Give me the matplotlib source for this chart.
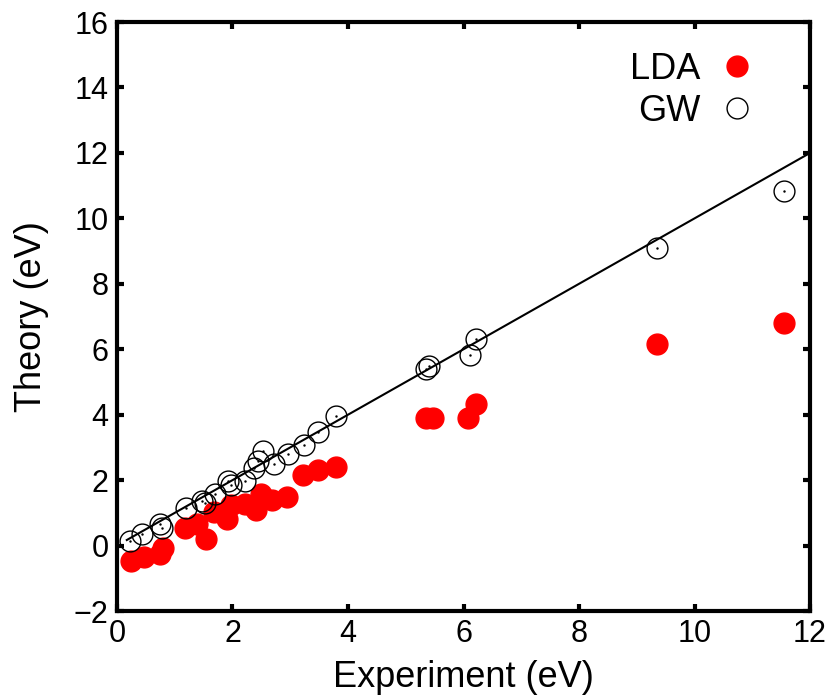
import numpy as np
import matplotlib
matplotlib.use('Agg')
import matplotlib.pyplot as plt

plt.rcParams['font.family'] = ['Liberation Sans', 'DejaVu Sans']

# experiment vs theory (eV)
exp_gw = [0.23, 0.43, 0.75, 0.78, 1.19, 1.48, 1.52, 1.70, 1.93, 1.98, 2.21, 2.38,
          2.44, 2.52, 2.72, 2.96, 3.24, 3.48, 3.79, 5.35, 5.41, 6.11, 6.21, 9.35, 11.55]
gw = [0.14, 0.35, 0.65, 0.55, 1.14, 1.35, 1.30, 1.59, 1.96, 1.85, 1.98, 2.37,
      2.59, 2.90, 2.49, 2.80, 3.08, 3.46, 3.96, 5.39, 5.49, 5.83, 6.31, 9.10, 10.85]

exp_lda = [0.25, 0.46, 0.75, 0.79, 1.18, 1.39, 1.54, 1.68, 1.90, 1.98, 2.21, 2.41,
           2.50, 2.68, 2.94, 3.22, 3.48, 3.79, 5.35, 5.47, 6.08, 6.22, 9.35, 11.55]
lda = [-0.47, -0.34, -0.26, -0.06, 0.55, 0.65, 0.20, 1.04, 0.81, 1.24, 1.28, 1.08,
       1.57, 1.39, 1.49, 2.15, 2.31, 2.41, 3.91, 3.91, 3.91, 4.34, 6.15, 6.80]

line_x = [0.17, 12]

fig = plt.figure(figsize=(8.32, 6.98), dpi=100)
ax = fig.add_axes([0.1406, 0.1246, 0.833, 0.8438])

ax.plot(line_x, line_x, color='k', lw=1.5, zorder=1)
ax.plot(exp_lda, lda, ls='', marker='o', ms=15, mfc='red', mec='red',
        label='LDA', zorder=2)
ax.plot(exp_gw, gw, ls='', marker='o', ms=15, mfc='none', mec='k', mew=1.0,
        label='GW', zorder=3)
ax.plot(exp_gw, gw, ls='', marker='.', ms=1.5, color='k', zorder=3)

ax.set_xlim(0, 12)
ax.set_ylim(-2, 16)
ax.set_xticks(np.arange(0, 13, 2))
ax.set_yticks(np.arange(-2, 17, 2))
ax.tick_params(direction='in', length=5, width=3, labelsize=22,
               top=True, right=True, pad=6)
for s in ax.spines.values():
    s.set_linewidth(3)

ax.set_xlabel('Experiment (eV)', fontsize=26, labelpad=8)
ax.set_ylabel('Theory (eV)', fontsize=26, labelpad=18)

ax.legend(loc='upper right', bbox_to_anchor=(0.915, 0.95), frameon=False,
          markerfirst=False, fontsize=26, handlelength=0.8,
          handletextpad=0.6, labelspacing=0.2, borderpad=0, borderaxespad=0)

fig.savefig('out.png', dpi=100)
